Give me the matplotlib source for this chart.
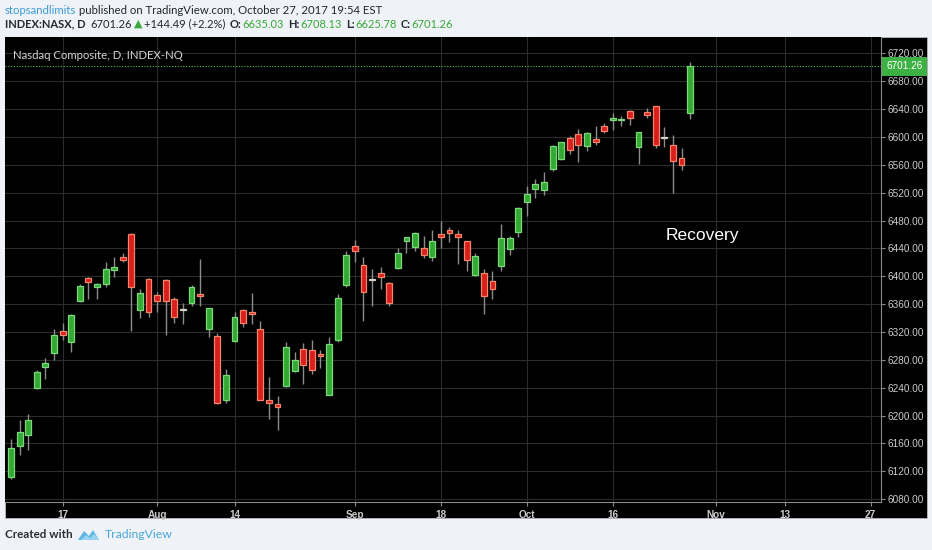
import numpy as np
import matplotlib
matplotlib.use('Agg')
import matplotlib.pyplot as plt
from matplotlib.patches import Rectangle, Polygon
import matplotlib.transforms as mtrans

plt.rcParams['font.family'] = ['Lato', 'DejaVu Sans']

# ---------------- data ----------------
dates = ['2017-07-07', '2017-07-10', '2017-07-11', '2017-07-12', '2017-07-13', '2017-07-14',
         '2017-07-17', '2017-07-18', '2017-07-19', '2017-07-20', '2017-07-21',
         '2017-07-24', '2017-07-25', '2017-07-26', '2017-07-27', '2017-07-28',
         '2017-07-31', '2017-08-01', '2017-08-02', '2017-08-03', '2017-08-04',
         '2017-08-07', '2017-08-08', '2017-08-09', '2017-08-10', '2017-08-11',
         '2017-08-14', '2017-08-15', '2017-08-16', '2017-08-17', '2017-08-18',
         '2017-08-21', '2017-08-22', '2017-08-23', '2017-08-24', '2017-08-25',
         '2017-08-28', '2017-08-29', '2017-08-30', '2017-08-31', '2017-09-01',
         '2017-09-05', '2017-09-06', '2017-09-07', '2017-09-08',
         '2017-09-11', '2017-09-12', '2017-09-13', '2017-09-14', '2017-09-15',
         '2017-09-18', '2017-09-19', '2017-09-20', '2017-09-21', '2017-09-22',
         '2017-09-25', '2017-09-26', '2017-09-27', '2017-09-28', '2017-09-29',
         '2017-10-02', '2017-10-03', '2017-10-04', '2017-10-05', '2017-10-06',
         '2017-10-09', '2017-10-10', '2017-10-11', '2017-10-12', '2017-10-13',
         '2017-10-16', '2017-10-17', '2017-10-18', '2017-10-19', '2017-10-20',
         '2017-10-23', '2017-10-24', '2017-10-25', '2017-10-26', '2017-10-27']

opens = [6112, 6156, 6172, 6240, 6270, 6290,
         6321, 6305, 6365, 6398, 6385,
         6389, 6409, 6428, 6461, 6351,
         6396, 6373, 6395, 6368, 6352,
         6362, 6375, 6325, 6314, 6223,
         6307, 6351, 6349, 6324, 6223,
         6217, 6242, 6264, 6296, 6294,
         6288, 6230, 6309, 6387, 6443,
         6416, 6395, 6405, 6391,
         6412, 6450, 6442, 6441, 6427,
         6461, 6467, 6461, 6450, 6402,
         6404, 6393, 6415, 6439, 6463,
         6507, 6525, 6524, 6554, 6569,
         6599, 6604, 6587, 6597, 6615,
         6624, 6624, 6637, 6585, 6636,
         6644, 6599, 6589, 6570, 6635.03]

highs = [6167, 6193, 6202, 6266, 6282, 6324,
         6333, 6346, 6389, 6399, 6391,
         6420, 6428, 6434, 6462, 6381,
         6398, 6377, 6396, 6370, 6362,
         6387, 6425, 6355, 6319, 6267,
         6348, 6353, 6376, 6336, 6256,
         6228, 6305, 6292, 6304, 6309,
         6294, 6313, 6375, 6436, 6452,
         6428, 6410, 6414, 6392,
         6440, 6457, 6463, 6458, 6466,
         6479, 6470, 6467, 6451, 6433,
         6410, 6408, 6475, 6458, 6500,
         6529, 6539, 6549, 6588, 6593,
         6602, 6611, 6607, 6616, 6620,
         6635, 6630, 6638, 6607, 6642,
         6645, 6614, 6603, 6584, 6708.13]

lows = [6109, 6143, 6151, 6238, 6253, 6280,
        6309, 6292, 6363, 6368, 6367,
        6384, 6399, 6420, 6321, 6340,
        6341, 6349, 6315, 6333, 6332,
        6358, 6358, 6313, 6217, 6218,
        6305, 6327, 6332, 6222, 6195,
        6179, 6241, 6263, 6246, 6260,
        6269, 6229, 6305, 6385, 6420,
        6336, 6358, 6381, 6357,
        6411, 6433, 6436, 6426, 6422,
        6441, 6449, 6418, 6408, 6401,
        6346, 6367, 6408, 6430, 6457,
        6487, 6513, 6516, 6551, 6567,
        6575, 6564, 6580, 6589, 6605,
        6610, 6616, 6617, 6561, 6627,
        6584, 6585, 6520, 6553, 6625.78]

closes = [6154, 6177, 6194, 6263, 6276, 6315,
          6316, 6345, 6386, 6392, 6389,
          6411, 6414, 6424, 6384, 6376,
          6349, 6365, 6364, 6341, 6352,
          6385, 6372, 6354, 6218, 6258,
          6341, 6333, 6346, 6223, 6218,
          6213, 6298, 6280, 6272, 6266,
          6285, 6303, 6369, 6430, 6436,
          6377, 6395, 6399, 6361,
          6434, 6456, 6462, 6430, 6450,
          6456, 6462, 6456, 6423, 6429,
          6372, 6382, 6455, 6455, 6498,
          6518, 6533, 6536, 6587, 6592,
          6581, 6589, 6606, 6593, 6608,
          6627, 6626, 6627, 6607, 6631,
          6588, 6599, 6566, 6559, 6701.26]

holidays = ['2017-09-04']
tick_dates = ['2017-07-17', '2017-08-01', '2017-08-14', '2017-09-01', '2017-09-18',
              '2017-10-02', '2017-10-16', '2017-11-01', '2017-11-13', '2017-11-27']
tick_labels = ['17', 'Aug', '14', 'Sep', '18', 'Oct', '16', 'Nov', '13', '27']
price_ticks = list(range(6080, 6721, 40))
last_price = 6701.26
note_text = 'Recovery'
note_date, note_price = '2017-10-30', 6458

# ---------------- figure ----------------
W, H = 932, 550
fig = plt.figure(figsize=(W / 100, H / 100), dpi=100, facecolor='#eff2f6')


def fx(px):
    return px / W


def fy(py):
    return 1 - py / H


# black chart box (behind the axes)
fig.patches.append(Rectangle((fx(5), fy(518)), (927 - 5) / W, (518 - 37) / H,
                             transform=fig.transFigure, facecolor='black',
                             edgecolor='#b8bcc4', lw=0.6, zorder=-5))

ax = fig.add_axes([fx(5), fy(502), (881 - 5) / W, (502 - 37) / H])
ax.set_zorder(2)
ax.set_facecolor('black')

xpos = np.busday_count(dates[0], dates, holidays=holidays)
tpos = np.busday_count(dates[0], tick_dates, holidays=holidays)
npos = np.busday_count(dates[0], note_date, holidays=holidays) + 0.4

o = np.array(opens, float)
h = np.array(highs, float)
l = np.array(lows, float)
c = np.array(closes, float)

up = c > o
down = c < o
flat = c == o

face = np.where(up, '#33a833', np.where(down, '#d91e1e', '#d8cfc6'))
edge = np.where(up, '#7bd87b', np.where(down, '#f3866a', '#d8cfc6'))

ax.vlines(xpos, l, h, color='#8c8c8c', lw=1.0, zorder=2)
bottoms = np.minimum(o, c)
heights = np.maximum(np.abs(c - o), 1.2)
ax.bar(xpos, heights, bottom=bottoms - np.where(flat, 0.6, 0), width=0.68,
       color=face, edgecolor=edge, linewidth=0.9, zorder=3)

# last price line
ax.axhline(last_price, color='#4cbb4c', lw=0.8, ls=(0, (1, 1.5)), zorder=1)

ax.set_xlim(-0.7, 101.2)
ax.set_ylim(6076, 6743.4)

ax.set_xticks(tpos)
ax.set_xticklabels(tick_labels, fontweight='bold')
ax.set_yticks(price_ticks)
ax.set_yticklabels(['%.2f' % p for p in price_ticks])
ax.yaxis.tick_right()
ax.tick_params(axis='both', colors='#8a8a8a', labelcolor='#cccccc', labelsize=7.2,
               length=3, width=0.8, pad=2)
ax.tick_params(axis='x', pad=3)
for lab in ax.get_xticklabels() + ax.get_yticklabels():
    lab.set_family(['Liberation Sans', 'DejaVu Sans'])
ax.grid(True, color='#2c2c2c', lw=0.8, zorder=0)
ax.set_axisbelow(True)
for s in ['top', 'left']:
    ax.spines[s].set_visible(False)
for s in ['right', 'bottom']:
    ax.spines[s].set_color('#8a8a8a')
    ax.spines[s].set_linewidth(0.8)

# last price tag
trans = mtrans.blended_transform_factory(ax.transAxes, ax.transData)
ax.text(1.006, last_price, '%.2f' % last_price, transform=trans, ha='left', va='center',
        color='white', fontsize=7.2, family=['Liberation Sans', 'DejaVu Sans'],
        bbox=dict(boxstyle='square,pad=0.42', fc='#3cb043', ec='none'),
        clip_on=False, zorder=5)

# chart labels
ax.text(0.009, 0.972, 'Nasdaq Composite, D, INDEX-NQ', transform=ax.transAxes,
        ha='left', va='top', color='#d4d4d4', fontsize=8.2)
ax.text(npos, note_price, note_text, ha='center', va='center', color='white',
        fontsize=12.5, family=['Liberation Sans', 'DejaVu Sans'])

# ---------------- header ----------------
fig.canvas.draw()
rend = fig.canvas.get_renderer()


def put(xpx, ypx, s, **kw):
    t = fig.text(fx(xpx), fy(ypx), s, ha='left', va='center', **kw)
    bb = t.get_window_extent(renderer=rend)
    return bb.x1


dark = '#222831'
green = '#3aa83a'
fs = 8.2
x1 = put(5, 10, 'stopsandlimits', color='#3d9bd6', fontsize=fs)
put(x1 + 3, 10, 'published on TradingView.com, October 27, 2017 19:54 EST',
    color=dark, fontsize=fs)

fs2 = 8.0
hx = put(5, 24, 'INDEX:NASX, D', color=dark, fontsize=fs2, fontweight='bold')
hx = put(hx + 5, 24, '%.2f' % last_price, color=dark, fontsize=fs2)
hx = put(hx + 2, 24, '\u25B2', color=green, fontsize=fs2, family=['DejaVu Sans'])
hx = put(hx + 2, 24, '+144.49 (+2.2%)', color=dark, fontsize=fs2)
for key, val in [('O:', opens[-1]), ('H:', highs[-1]), ('L:', lows[-1]), ('C:', closes[-1])]:
    hx = put(hx + 4, 24, key, color=dark, fontsize=fs2, fontweight='bold')
    hx = put(hx + 1, 24, '%.2f' % val, color=green, fontsize=fs2)

# ---------------- footer ----------------
fx1 = put(5, 535, 'Created with', color='#2a2f36', fontsize=8.4, fontweight='bold')
# small cloud logo
lx, ly = 78, 535
logo1 = Polygon([(fx(lx), fy(ly + 5)), (fx(lx + 6), fy(ly - 4)), (fx(lx + 11), fy(ly + 1)),
                 (fx(lx + 15), fy(ly - 5)), (fx(lx + 21), fy(ly + 5))],
                closed=True, transform=fig.transFigure, fc='#5cb6e6', ec='none')
logo2 = Polygon([(fx(lx + 3), fy(ly + 5)), (fx(lx + 8), fy(ly)), (fx(lx + 12), fy(ly + 3)),
                 (fx(lx + 16), fy(ly - 1)), (fx(lx + 21), fy(ly + 5))],
                closed=True, transform=fig.transFigure, fc='#9ad4f2', ec='none')
fig.patches.extend([logo1, logo2])
put(105, 535, 'TradingView', color='#4aa8db', fontsize=8.8)

fig.savefig('out.png', dpi=100, facecolor=fig.get_facecolor())
